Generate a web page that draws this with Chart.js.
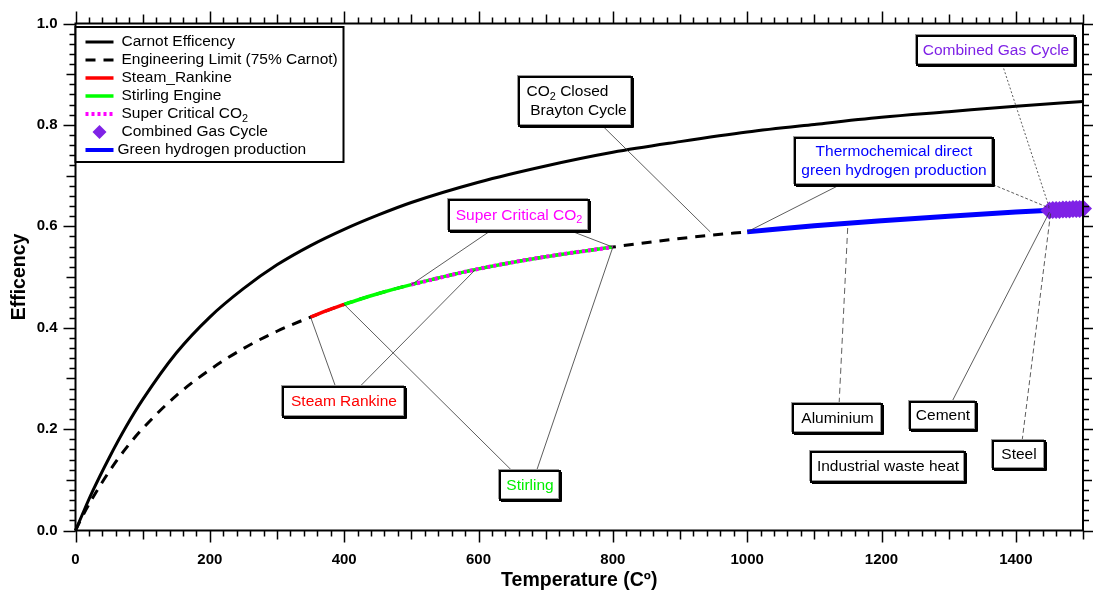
<!DOCTYPE html>
<html>
<head>
<meta charset="utf-8">
<script src="https://cdn.jsdelivr.net/npm/chart.js@4.4.0/dist/chart.umd.min.js"></script>
<style>
html, body { margin: 0; padding: 0; background: #fff; }
</style>
</head>
<body>
<canvas id="myChart" width="1093" height="595"></canvas>
<script>
// values (efficiency vs temperature in C)
let curveTemps = [0, 10, 25, 50, 75, 100, 150, 200, 250, 300, 350, 400, 450, 500, 600, 700, 800, 900, 1000, 1100, 1200, 1300, 1400, 1500];
let carnot = [0, 0.031, 0.076, 0.143, 0.204, 0.258, 0.350, 0.421, 0.477, 0.524, 0.562, 0.594, 0.622, 0.647, 0.687, 0.719, 0.746, 0.767, 0.786, 0.801, 0.815, 0.826, 0.837, 0.846];
let engLimit = [0, 0.027, 0.063, 0.116, 0.162, 0.201, 0.266, 0.317, 0.359, 0.393, 0.421, 0.446, 0.467, 0.485, 0.516, 0.540, 0.559, 0.576, 0.589, 0.601, 0.611, 0.620, 0.628, 0.635];

let rankineTemps = [350, 375, 400];
let rankine = [0.421, 0.434, 0.446];

let stirlingTemps = [400, 450, 500, 600, 700, 800];
let stirling = [0.446, 0.467, 0.485, 0.516, 0.540, 0.559];

let sco2Temps = [500, 600, 700, 800];
let sco2 = [0.485, 0.516, 0.540, 0.559];

let hydrogenTemps = [1000, 1100, 1200, 1300, 1400, 1500];
let hydrogen = [0.589, 0.601, 0.611, 0.620, 0.628, 0.635];

let gasCycleTemps = [1450, 1455, 1460, 1465, 1470, 1475, 1480, 1485, 1490, 1495, 1500];
let gasCycle = [0.631, 0.632, 0.632, 0.632, 0.633, 0.633, 0.633, 0.634, 0.634, 0.634, 0.635];

let xTickValues = [0, 200, 400, 600, 800, 1000, 1200, 1400];
let yTickValues = [0, 0.2, 0.4, 0.6, 0.8, 1.0];

let fontFam = "'Liberation Sans', Arial, sans-serif";
let purple = '#7F22E6';

function pts(xs, ys) {
    return xs.map((x, i) => ({ x: x, y: ys[i] }));
}

// callout boxes: box left/top in data units, leaders go from a spot on the box to a data point
let callouts = [
    { text: ["Combined Gas Cycle"], color: purple, x: 1253, y: 0.976, w: 158, h: 29,
      leaders: [{ fx: 0.54, fy: 1, tx: 1450, ty: 0.636, dash: [2, 2] }] },
    { text: ["Thermochemical direct", "green hydrogen production"], color: '#0000FF', x: 1071, y: 0.775, w: 198, h: 47,
      leaders: [{ fx: 0.23, fy: 1, tx: 1000, ty: 0.589, dash: [] },
                { fx: 1, fy: 1, tx: 1450, ty: 0.636, dash: [3, 2] }] },
    { text: ["CO_2 Closed", "Brayton Cycle"], color: '#000000', x: 660, y: 0.895, w: 113, h: 49,
      offsets: [-8, 3],
      leaders: [{ fx: 0.74, fy: 1, tx: 945, ty: 0.589, dash: [] }] },
    { text: ["Super Critical CO_2"], color: '#FF00FF', x: 556, y: 0.651, w: 140, h: 31,
      leaders: [{ fx: 0.29, fy: 1, tx: 500, ty: 0.485, dash: [] },
                { fx: 0.88, fy: 1, tx: 800, ty: 0.559, dash: [] }] },
    { text: ["Steam Rankine"], color: '#FF0000', x: 309, y: 0.284, w: 122, h: 30,
      leaders: [{ fx: 0.43, fy: 0, tx: 350, ty: 0.421, dash: [] },
                { fx: 0.63, fy: 0, tx: 595, ty: 0.514, dash: [] }] },
    { text: ["Stirling"], color: '#00EE00', x: 632, y: 0.118, w: 60, h: 29,
      leaders: [{ fx: 0.2, fy: 0, tx: 400, ty: 0.446, dash: [] },
                { fx: 0.61, fy: 0, tx: 800, ty: 0.559, dash: [] }] },
    { text: ["Aluminium"], color: '#000000', x: 1068, y: 0.250, w: 89, h: 29,
      leaders: [{ fx: 0.52, fy: 0, tx: 1150, ty: 0.606, dash: [6, 4] }] },
    { text: ["Cement"], color: '#000000', x: 1242, y: 0.254, w: 66, h: 28,
      leaders: [{ fx: 0.64, fy: 0, tx: 1450, ty: 0.628, dash: [] }] },
    { text: ["Steel"], color: '#000000', x: 1366, y: 0.177, w: 52, h: 28,
      leaders: [{ fx: 0.56, fy: 0, tx: 1452, ty: 0.628, dash: [5, 3] }] },
    { text: ["Industrial waste heat"], color: '#000000', x: 1095, y: 0.155, w: 154, h: 30, leaders: [] }
];

// text with "_2" style subscripts
function richWidth(ctx, str, size) {
    let parts = str.split(/_(\d)/);
    let w = 0;
    parts.forEach((p, i) => {
        ctx.font = (i % 2 ? size * 0.7 : size) + 'px ' + fontFam;
        w += ctx.measureText(p).width;
    });
    return w;
}

function richText(ctx, str, x, y, size, align) {
    let parts = str.split(/_(\d)/);
    let w = richWidth(ctx, str, size);
    let cx = align === 'center' ? x - w / 2 : x;
    ctx.textAlign = 'left';
    ctx.textBaseline = 'middle';
    parts.forEach((p, i) => {
        let sub = i % 2 === 1;
        ctx.font = (sub ? size * 0.7 : size) + 'px ' + fontFam;
        ctx.fillText(p, cx, sub ? y + size * 0.3 : y);
        cx += ctx.measureText(p).width;
    });
}

let extrasPlugin = {
    id: 'extras',
    afterDatasetsDraw(chart) {
        let ctx = chart.ctx;
        let xs = chart.scales.x, ys = chart.scales.y;
        let area = chart.chartArea;

        // frame and ticks on all four sides
        ctx.save();
        ctx.strokeStyle = '#000';
        ctx.lineWidth = 2;
        ctx.strokeRect(area.left, area.top, area.right - area.left, area.bottom - area.top);
        ctx.lineWidth = 1.5;
        ctx.beginPath();
        for (let i = 0; i <= 75; i++) {
            let len = i % 10 === 0 ? 12 : (i % 5 === 0 ? 9 : 6);
            let x = Math.round(xs.getPixelForValue(i * 20)) + 0.5;
            ctx.moveTo(x, area.bottom); ctx.lineTo(x, area.bottom + len);
            ctx.moveTo(x, area.top); ctx.lineTo(x, area.top - len);
        }
        for (let i = 0; i <= 50; i++) {
            let len = i % 10 === 0 ? 12 : (i % 5 === 0 ? 9 : 6);
            let y = Math.round(ys.getPixelForValue(i * 0.02)) + 0.5;
            ctx.moveTo(area.left, y); ctx.lineTo(area.left - len, y);
            ctx.moveTo(area.right, y); ctx.lineTo(area.right + len, y);
        }
        ctx.stroke();

        // leader lines
        callouts.forEach(c => {
            let bx = xs.getPixelForValue(c.x), by = ys.getPixelForValue(c.y);
            c.leaders.forEach(l => {
                ctx.beginPath();
                ctx.setLineDash(l.dash);
                ctx.strokeStyle = '#333';
                ctx.lineWidth = 0.8;
                ctx.moveTo(bx + l.fx * c.w, by + l.fy * c.h);
                ctx.lineTo(xs.getPixelForValue(l.tx), ys.getPixelForValue(l.ty));
                ctx.stroke();
            });
        });
        ctx.setLineDash([]);

        // boxes
        callouts.forEach(c => {
            let bx = Math.round(xs.getPixelForValue(c.x)), by = Math.round(ys.getPixelForValue(c.y));
            ctx.fillStyle = '#fff';
            ctx.fillRect(bx, by, c.w, c.h);
            ctx.strokeStyle = '#999';
            ctx.lineWidth = 1;
            ctx.strokeRect(bx - 1.5, by - 1.5, c.w, c.h);
            ctx.strokeStyle = '#000';
            ctx.lineWidth = 2;
            ctx.strokeRect(bx, by, c.w, c.h);
            ctx.lineWidth = 1;
            ctx.beginPath();
            ctx.moveTo(bx + c.w + 1.5, by + 1); ctx.lineTo(bx + c.w + 1.5, by + c.h + 1.5);
            ctx.lineTo(bx + 1, by + c.h + 1.5);
            ctx.stroke();
            ctx.fillStyle = c.color;
            let n = c.text.length;
            let step = n > 1 ? 19 : 0;
            c.text.forEach((t, i) => {
                let ty = by + c.h / 2 + (i - (n - 1) / 2) * step;
                let dx = c.offsets ? c.offsets[i] : 0;
                richText(ctx, t, bx + c.w / 2 + dx, ty, 15.5, 'center');
            });
        });

        // legend
        let lx = area.left, ly = area.top + 3.5;
        ctx.fillStyle = '#fff';
        ctx.fillRect(lx, ly, 268, 135);
        ctx.strokeStyle = '#000';
        ctx.lineWidth = 2;
        ctx.strokeRect(lx, ly, 268, 135);
        chart.data.datasets.forEach((ds, i) => {
            let ry = ly + 15 + i * 18;
            if (ds.showLine === false) {
                ctx.fillStyle = ds.backgroundColor;
                ctx.beginPath();
                ctx.moveTo(lx + 24, ry - 7); ctx.lineTo(lx + 31, ry);
                ctx.lineTo(lx + 24, ry + 7); ctx.lineTo(lx + 17, ry);
                ctx.closePath();
                ctx.fill();
            } else {
                ctx.strokeStyle = ds.borderColor;
                ctx.lineWidth = Math.min(ds.borderWidth, 4);
                ctx.setLineDash(ds.borderDash || []);
                ctx.beginPath(); ctx.moveTo(lx + 10, ry); ctx.lineTo(lx + 38, ry); ctx.stroke();
                ctx.setLineDash([]);
            }
            ctx.fillStyle = '#000';
            richText(ctx, ds.label, lx + (i === 6 ? 42 : 46), ry, 15.5, 'left');
        });
        ctx.restore();
    }
};

let ctxMain = document.getElementById("myChart").getContext('2d');

let chart1 = new Chart(ctxMain, {
    type: 'line',
    data: {
        datasets: [{
            label: 'Carnot Efficency',
            data: pts(curveTemps, carnot),
            borderColor: '#000',
            borderWidth: 3,
            order: 4
        }, {
            label: 'Engineering Limit (75% Carnot)',
            data: pts(curveTemps, engLimit),
            borderColor: '#000',
            borderWidth: 3,
            borderDash: [10, 8],
            order: 5
        }, {
            label: 'Steam_Rankine',
            data: pts(rankineTemps, rankine),
            borderColor: '#FF0000',
            borderWidth: 3.5,
            order: 2
        }, {
            label: 'Stirling Engine',
            data: pts(stirlingTemps, stirling),
            borderColor: '#00FF00',
            borderWidth: 3.5,
            order: 2
        }, {
            label: 'Super Critical CO_2',
            data: pts(sco2Temps, sco2),
            borderColor: '#FF00FF',
            borderWidth: 4,
            borderDash: [3, 3],
            order: 1
        }, {
            label: 'Combined Gas Cycle',
            data: pts(gasCycleTemps, gasCycle),
            showLine: false,
            pointStyle: 'rectRot',
            pointRadius: 9,
            backgroundColor: purple,
            borderColor: purple,
            borderWidth: 0,
            order: 0
        }, {
            label: 'Green hydrogen production',
            data: pts(hydrogenTemps, hydrogen),
            borderColor: '#0000FF',
            borderWidth: 5,
            order: 3
        }]
    },
    options: {
        responsive: false,
        animation: false,
        devicePixelRatio: 1,
        clip: false,
        elements: {
            point: { radius: 0 },
            line: { cubicInterpolationMode: 'monotone', fill: false, borderCapStyle: 'butt' }
        },
        layout: { padding: { top: 23.5, right: 10, left: 0, bottom: 0 } },
        plugins: {
            legend: { display: false },
            tooltip: { enabled: false }
        },
        scales: {
            x: {
                type: 'linear',
                min: 0,
                max: 1500,
                afterBuildTicks: s => { s.ticks = xTickValues.map(v => ({ value: v })); },
                afterFit: s => { s.height = 64.5; },
                ticks: {
                    color: '#000',
                    font: { family: fontFam, size: 15, weight: 'bold' },
                    padding: 8,
                    maxRotation: 0,
                    autoSkip: false,
                    callback: v => String(v)
                },
                grid: { display: true, drawOnChartArea: false, drawTicks: true, tickLength: 12, color: 'rgba(0,0,0,0)' },
                border: { display: false },
                title: {
                    display: true,
                    text: 'Temperature (Cº)',
                    color: '#000',
                    font: { family: fontFam, size: 19.5, weight: 'bold' },
                    padding: { top: 0, bottom: 3 }
                }
            },
            y: {
                min: 0,
                max: 1,
                afterBuildTicks: s => { s.ticks = yTickValues.map(v => ({ value: v })); },
                afterFit: s => { s.width = 75.5; },
                ticks: {
                    color: '#000',
                    font: { family: fontFam, size: 15, weight: 'bold' },
                    padding: 6,
                    callback: v => v.toFixed(1)
                },
                grid: { display: true, drawOnChartArea: false, drawTicks: true, tickLength: 12, color: 'rgba(0,0,0,0)' },
                border: { display: false },
                title: {
                    display: true,
                    text: 'Efficency',
                    color: '#000',
                    font: { family: fontFam, size: 19.5, weight: 'bold' },
                    padding: { top: 8, bottom: 0 }
                }
            }
        }
    },
    plugins: [extrasPlugin]
});
</script>
</body>
</html>
